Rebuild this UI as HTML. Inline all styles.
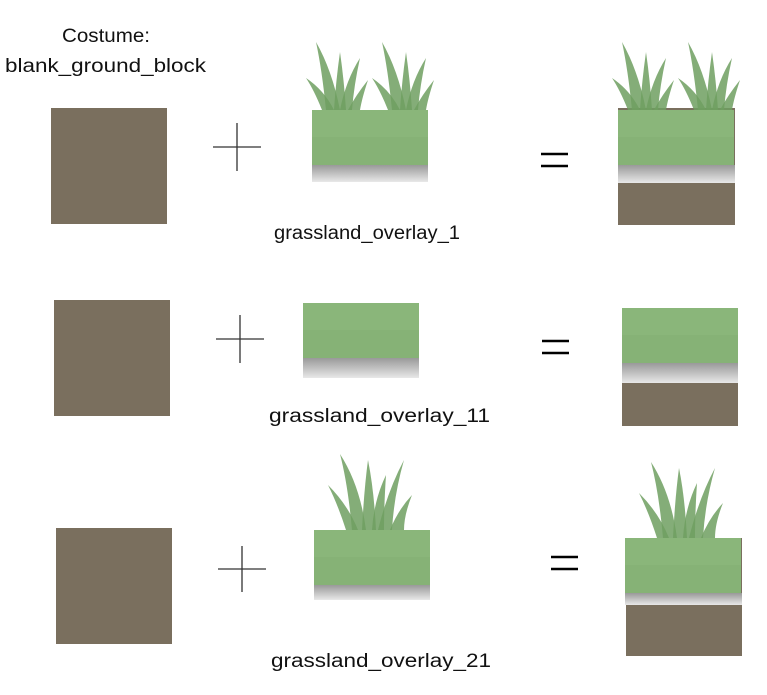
<!DOCTYPE html>
<html><head><meta charset="utf-8"><style>
html,body{margin:0;padding:0;background:#fff;}
svg{display:block}
text{font-family:"Liberation Sans",sans-serif;font-size:19px;fill:#111}
</style></head><body>
<svg width="767" height="695" viewBox="0 0 767 695" xmlns="http://www.w3.org/2000/svg">
<defs>
<g id="tuft" fill="#6f9f60" fill-opacity="0.85">
  <path d="M10,0 Q2,-20 -6,-32 Q12,-20 22,0Z"/>
  <path d="M14,0 Q10,-40 4,-68 Q20,-40 28,0Z"/>
  <path d="M22,0 Q24,-30 28,-58 Q32,-30 34,0Z"/>
  <path d="M28,0 Q34,-30 48,-52 Q42,-25 40,0Z"/>
  <path d="M36,0 Q44,-15 56,-30 Q50,-12 48,0Z"/>
</g>
<g id="tuft3" fill="#6f9f60" fill-opacity="0.85">
  <path d="M14,0 Q6,-25 -4,-45 Q16,-25 26,0Z"/>
  <path d="M20,0 Q16,-45 8,-76 Q28,-45 34,0Z"/>
  <path d="M30,0 Q32,-40 36,-70 Q42,-40 44,0Z"/>
  <path d="M40,0 Q42,-30 54,-55 Q52,-25 52,0Z"/>
  <path d="M46,0 Q56,-40 72,-70 Q62,-35 60,0Z"/>
  <path d="M58,0 Q66,-20 80,-35 Q72,-15 72,0Z"/>
</g>
<linearGradient id="grey" x1="0" y1="0" x2="0" y2="1"><stop offset="0" stop-color="#999"/><stop offset="1" stop-color="#e8e8e8"/></linearGradient>
<g id="green"><rect width="116" height="55" fill="#8ab67a"/><rect y="27" width="116" height="28" fill="#86b276"/></g>
</defs>

<text x="62" y="42" textLength="88" lengthAdjust="spacingAndGlyphs">Costume:</text>
<text x="5" y="72" textLength="201" lengthAdjust="spacingAndGlyphs">blank_ground_block</text>

<!-- row 1 -->
<rect x="51" y="108" width="116" height="116" fill="#7a6f5e"/>
<path d="M237,123V171M213,147H261" stroke="#333" stroke-width="1.3"/>
<use href="#tuft" x="312" y="110"/><use href="#tuft" x="378" y="110"/>
<use href="#green" x="312" y="110"/>
<rect x="312" y="165" width="116" height="17" fill="url(#grey)"/>
<text x="274" y="239" textLength="186" lengthAdjust="spacingAndGlyphs">grassland_overlay_1</text>
<path d="M541,154H568M541,166H568" stroke="#000" stroke-width="2.5"/>
<rect x="618" y="108" width="117" height="117" fill="#7a6f5e"/>
<use href="#tuft" x="618" y="110"/><use href="#tuft" x="684" y="110"/>
<use href="#green" x="618" y="110"/>
<rect x="618" y="165" width="117" height="18" fill="url(#grey)"/>

<!-- row 2 -->
<rect x="54" y="300" width="116" height="116" fill="#7a6f5e"/>
<path d="M240,315V363M216,339H264" stroke="#333" stroke-width="1.3"/>
<use href="#green" x="303" y="303"/>
<rect x="303" y="358" width="116" height="20" fill="url(#grey)"/>
<text x="269" y="422" textLength="221" lengthAdjust="spacingAndGlyphs">grassland_overlay_11</text>
<path d="M542,341H569M542,353H569" stroke="#000" stroke-width="2.5"/>
<rect x="622" y="383" width="116" height="43" fill="#7a6f5e"/>
<use href="#green" x="622" y="308"/>
<rect x="622" y="363" width="116" height="20" fill="url(#grey)"/>

<!-- row 3 -->
<rect x="56" y="528" width="116" height="116" fill="#7a6f5e"/>
<path d="M242,546V592M218,569H266" stroke="#333" stroke-width="1.3"/>
<use href="#tuft3" x="332" y="530"/>
<use href="#green" x="314" y="530"/>
<rect x="314" y="585" width="116" height="15" fill="url(#grey)"/>
<text x="271" y="667" textLength="220" lengthAdjust="spacingAndGlyphs">grassland_overlay_21</text>
<path d="M551,557H578M551,569H578" stroke="#000" stroke-width="2.5"/>
<rect x="626" y="538" width="116" height="118" fill="#7a6f5e"/>
<use href="#tuft3" x="643" y="538"/>
<use href="#green" x="625" y="538"/>
<rect x="625" y="593" width="117" height="12" fill="url(#grey)"/>
</svg>
</body></html>
